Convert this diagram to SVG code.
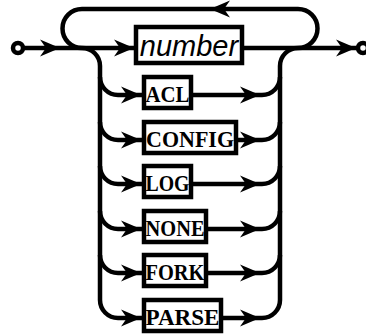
<svg xmlns="http://www.w3.org/2000/svg" xmlns:xlink="http://www.w3.org/1999/xlink" width="366" height="336" viewBox="0 0 366 336">
<style>
.ln{fill:none;stroke:#000;stroke-width:4.5}
.bx{fill:#fff;stroke:#000;stroke-width:4.5}
.kw{font-family:"Liberation Serif","Times New Roman",serif;font-weight:bold;font-size:23px;text-anchor:middle;fill:#000}
.nt{font-family:"Liberation Sans",Arial,sans-serif;font-style:italic;font-size:29px;text-anchor:middle;fill:#000}
</style>
<defs>
<path id="ah" d="M0,0 L-20,-8.5 L-14,0 L-20,8.5 Z" fill="#000"/>
</defs>
<g id="connectors">
<circle class="ln" cx="18" cy="48" r="5"/>
<circle class="ln" cx="363" cy="48" r="5"/>
<path class="ln" d="M23,48 H136"/>
<path class="ln" d="M242,48 H358"/>
<path class="ln" d="M82,48 A19.5,19.5 0 0 1 82,9 H298 A19.5,19.5 0 0 1 298,48"/>
<path class="ln" d="M82,48 A18,18 0 0 1 100,66 V300 A18,18 0 0 0 118,318"/>
<path class="ln" d="M298,48 A18,18 0 0 0 280,66 V300 A18,18 0 0 1 262,318"/>
<path class="ln" d="M100,77 A18,18 0 0 0 118,95 H144 M100,122 A18,18 0 0 0 118,140 H144 M100,166 A18,18 0 0 0 118,184 H144 M100,211 A18,18 0 0 0 118,229 H144 M100,255 A18,18 0 0 0 118,273 H144 M118,318 H144"/>
<path class="ln" d="M191,95 H262 A18,18 0 0 0 280,77 M236,140 H262 A18,18 0 0 0 280,122 M191,184 H262 A18,18 0 0 0 280,166 M206,229 H262 A18,18 0 0 0 280,211 M206,273 H262 A18,18 0 0 0 280,255 M221,318 H262"/>
<use xlink:href="#ah" transform="translate(60,48)"/>
<use xlink:href="#ah" transform="translate(134,48)"/>
<use xlink:href="#ah" transform="translate(356,48)"/>
<use xlink:href="#ah" transform="translate(210,9) rotate(180)"/>
<use xlink:href="#ah" transform="translate(141,95)"/>
<use xlink:href="#ah" transform="translate(141,140)"/>
<use xlink:href="#ah" transform="translate(141,184)"/>
<use xlink:href="#ah" transform="translate(141,229)"/>
<use xlink:href="#ah" transform="translate(141,273)"/>
<use xlink:href="#ah" transform="translate(141,318)"/>
<use xlink:href="#ah" transform="translate(260,95)"/>
<use xlink:href="#ah" transform="translate(260,140)"/>
<use xlink:href="#ah" transform="translate(260,184)"/>
<use xlink:href="#ah" transform="translate(260,229)"/>
<use xlink:href="#ah" transform="translate(260,273)"/>
<use xlink:href="#ah" transform="translate(260,318)"/>
</g>
<g id="node-number"><rect class="bx" x="136" y="27" width="106" height="36"/><text class="nt" x="189" y="56">number</text></g>
<g id="node-acl"><rect class="bx" x="144" y="77" width="47" height="31"/><text class="kw" x="167.5" y="102" textLength="44" lengthAdjust="spacingAndGlyphs">ACL</text></g>
<g id="node-config"><rect class="bx" x="144" y="122" width="92" height="31"/><text class="kw" x="190" y="147" textLength="88" lengthAdjust="spacingAndGlyphs">CONFIG</text></g>
<g id="node-log"><rect class="bx" x="144" y="166" width="47" height="31"/><text class="kw" x="167.5" y="191" textLength="44" lengthAdjust="spacingAndGlyphs">LOG</text></g>
<g id="node-none"><rect class="bx" x="144" y="211" width="62" height="31"/><text class="kw" x="175" y="236" textLength="59" lengthAdjust="spacingAndGlyphs">NONE</text></g>
<g id="node-fork"><rect class="bx" x="144" y="255" width="62" height="31"/><text class="kw" x="175" y="280" textLength="59" lengthAdjust="spacingAndGlyphs">FORK</text></g>
<g id="node-parse"><rect class="bx" x="144" y="300" width="77" height="31"/><text class="kw" x="182.5" y="325" textLength="74" lengthAdjust="spacingAndGlyphs">PARSE</text></g>
</svg>
